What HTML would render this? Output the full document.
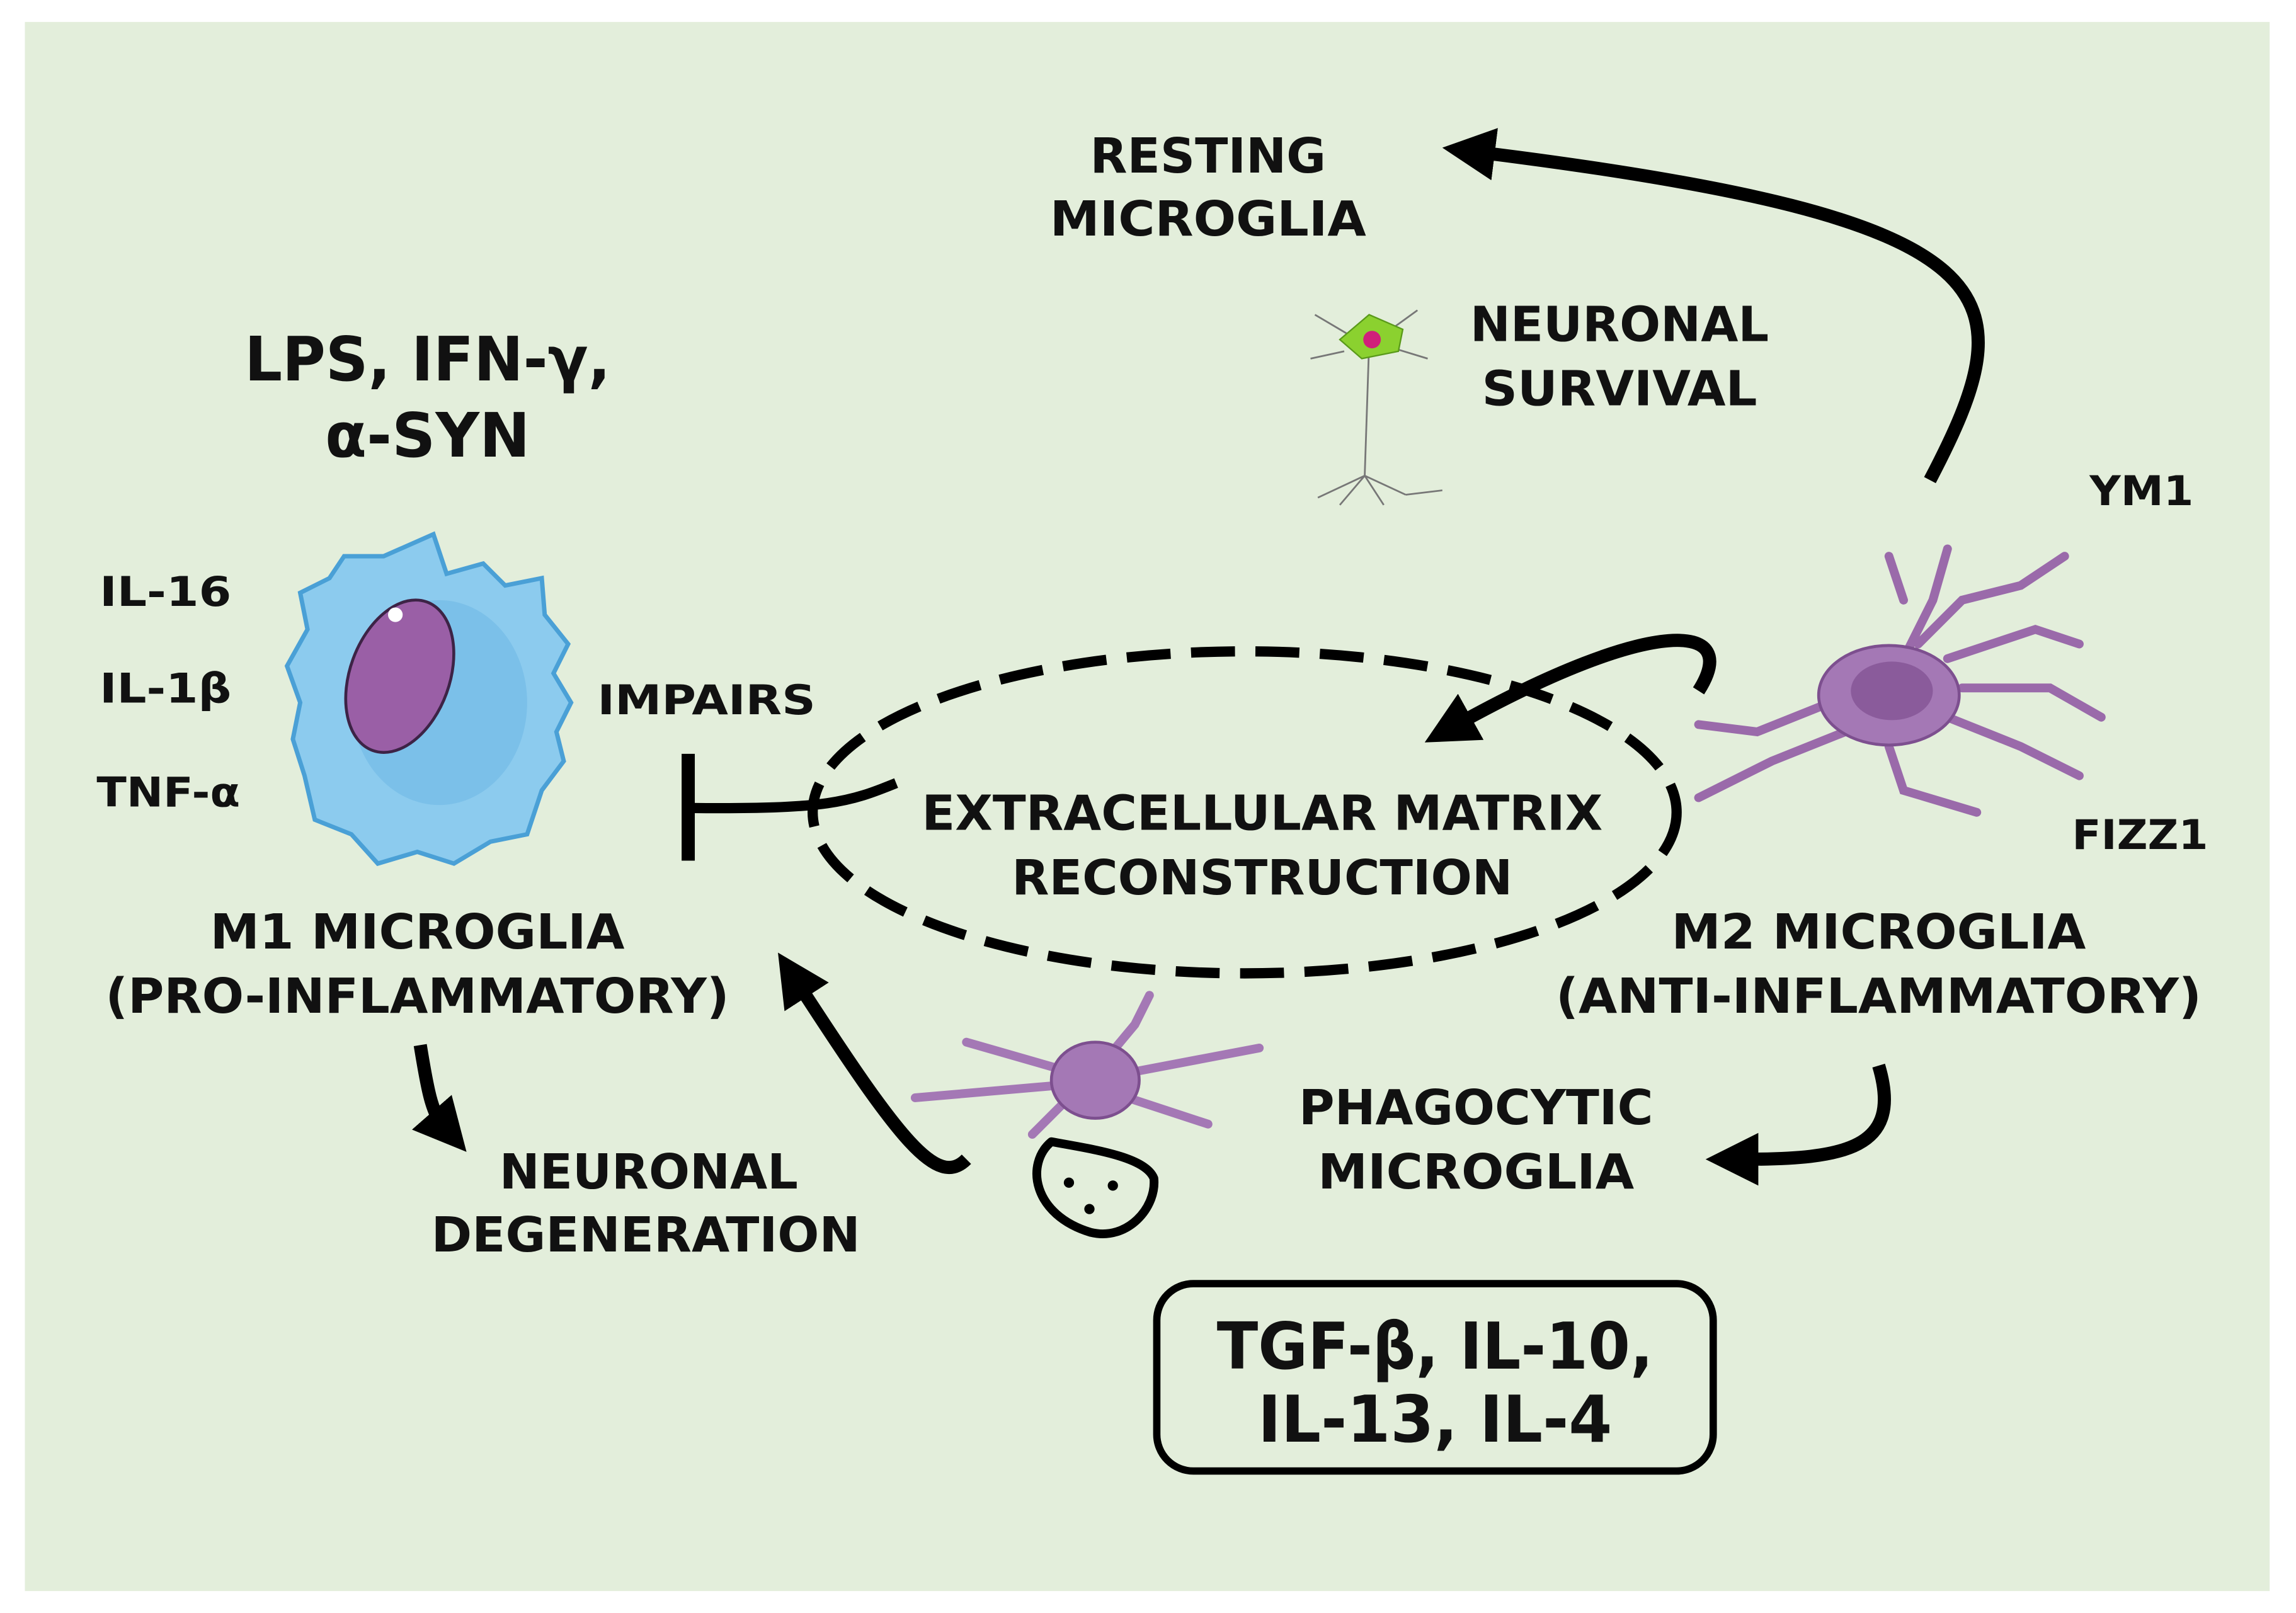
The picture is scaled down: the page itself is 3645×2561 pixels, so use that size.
<!DOCTYPE html>
<html><head><meta charset="utf-8">
<style>
html,body{margin:0;padding:0;background:#fff;}
svg{display:block;}
text{font-family:"DejaVu Sans","Liberation Sans",sans-serif;font-weight:bold;fill:#111;}
</style></head>
<body>
<svg width="3645" height="2561" viewBox="0 0 1568 1102" preserveAspectRatio="none" xmlns="http://www.w3.org/2000/svg">
<defs>
<marker id="ah" markerWidth="4" markerHeight="4" refX="1.2" refY="2" orient="auto" markerUnits="strokeWidth">
<path d="M0,0 L4,2 L0,4 Z" fill="#000"/>
</marker>
</defs>
<rect x="0" y="0" width="1568" height="1102" fill="#fff"/>
<rect x="17" y="15" width="1533" height="1072" fill="#e3eedb"/>

<ellipse cx="850" cy="555" rx="295" ry="110" fill="none" stroke="#000" stroke-width="7" stroke-dasharray="30 14"/>

<path d="M1318,328 C1385,200 1380,150 1010,104" fill="none" stroke="#000" stroke-width="9" marker-end="url(#ah)"/>
<path d="M1160,472 C1190,425 1130,420 995,495" fill="none" stroke="#000" stroke-width="9" marker-end="url(#ah)"/>
<path d="M612,535 C580,548 565,553 472,552" fill="none" stroke="#000" stroke-width="7"/>
<line x1="470" y1="515" x2="470" y2="588" stroke="#000" stroke-width="9"/>
<path d="M660,792 C640,812 615,780 545,672" fill="none" stroke="#000" stroke-width="9" marker-end="url(#ah)"/>
<path d="M1283,728 C1300,785 1260,792 1190,792" fill="none" stroke="#000" stroke-width="9" marker-end="url(#ah)"/>
<path d="M287,714 C292,745 295,760 302,768" fill="none" stroke="#000" stroke-width="9" marker-end="url(#ah)"/>

<path d="M296,365 L305,392 L330,385 L345,400 L370,395 L372,420 L388,440 L378,460 L390,480 L380,500 L385,520 L370,540 L360,570 L335,575 L310,590 L285,582 L258,590 L240,570 L215,560 L208,530 L200,505 L205,480 L196,455 L210,430 L205,405 L225,395 L235,380 L262,380 Z" fill="#8ccbee" stroke="#4aa0d6" stroke-width="3"/>
<ellipse cx="300" cy="480" rx="60" ry="70" fill="#6fb9e6" opacity="0.6"/>
<ellipse cx="273" cy="462" rx="34" ry="54" transform="rotate(20 273 462)" fill="#9a5fa6" stroke="#3d2346" stroke-width="2"/>
<circle cx="270" cy="420" r="5" fill="#fff"/>

<g stroke="#9a6aaa" stroke-width="6" stroke-linecap="round" fill="none">
<path d="M1290,470 L1320,410 L1330,375"/>
<path d="M1310,440 L1340,410 L1380,400 L1410,380"/>
<path d="M1330,450 L1390,430 L1420,440"/>
<path d="M1340,470 L1400,470 L1435,490"/>
<path d="M1330,490 L1380,510 L1420,530"/>
<path d="M1250,480 L1200,500 L1160,495"/>
<path d="M1260,500 L1210,520 L1160,545"/>
<path d="M1290,510 L1300,540 L1350,555"/>
<path d="M1300,410 L1290,380"/>
</g>
<ellipse cx="1290" cy="475" rx="48" ry="34" fill="#a478b5" stroke="#7d4f8f" stroke-width="2"/>
<ellipse cx="1292" cy="472" rx="28" ry="20" fill="#8a5b9b"/>

<g stroke="#a478b5" stroke-width="6" stroke-linecap="round" fill="none">
<path d="M740,735 L660,712"/><path d="M740,740 L625,750"/>
<path d="M750,730 L775,700 L785,680"/><path d="M760,735 L860,716"/>
<path d="M755,745 L825,768"/><path d="M735,745 L705,775"/>
</g>
<ellipse cx="748" cy="738" rx="30" ry="26" fill="#a478b5" stroke="#7d4f8f" stroke-width="2"/>
<path d="M718,780 C700,795 705,830 745,842 C770,848 790,825 788,805 C782,790 745,785 718,780 Z" fill="none" stroke="#000" stroke-width="6" stroke-linejoin="round"/>
<circle cx="730" cy="808" r="3.5"/><circle cx="744" cy="826" r="3.5"/><circle cx="760" cy="810" r="3.5"/>

<g stroke="#777" stroke-width="1.2" fill="none">
<path d="M935,235 L932,325"/><path d="M932,325 L900,340 M932,325 L960,338 M932,325 L915,345 M932,325 L945,345 M960,338 L985,335"/>
<path d="M920,228 L898,215 M950,225 L968,212 M952,238 L975,245 M918,240 L895,245"/>
</g>
<path d="M915,232 L935,215 L958,225 L955,240 L930,245 Z" fill="#8bd12f" stroke="#5a9a1a"/>
<circle cx="937" cy="232" r="6" fill="#d0207a"/>

<rect x="790" y="877" width="380" height="128" rx="25" fill="none" stroke="#000" stroke-width="5"/>

<g text-anchor="middle">
<text x="825" y="118" font-size="33">RESTING</text>
<text x="825" y="161" font-size="33" textLength="216" lengthAdjust="spacingAndGlyphs">MICROGLIA</text>
<text x="1106" y="233" font-size="33" textLength="204" lengthAdjust="spacingAndGlyphs">NEURONAL</text>
<text x="1106" y="277" font-size="33" textLength="188" lengthAdjust="spacingAndGlyphs">SURVIVAL</text>
<text x="292" y="260" font-size="42" textLength="250" lengthAdjust="spacingAndGlyphs">LPS, IFN-γ,</text>
<text x="292" y="312" font-size="42" textLength="140" lengthAdjust="spacingAndGlyphs">α-SYN</text>
<text x="862" y="567" font-size="33" textLength="465" lengthAdjust="spacingAndGlyphs">EXTRACELLULAR MATRIX</text>
<text x="862" y="611" font-size="33" textLength="342" lengthAdjust="spacingAndGlyphs">RECONSTRUCTION</text>
<text x="285" y="648" font-size="33" textLength="283" lengthAdjust="spacingAndGlyphs">M1 MICROGLIA</text>
<text x="285" y="692" font-size="33" textLength="426" lengthAdjust="spacingAndGlyphs">(PRO-INFLAMMATORY)</text>
<text x="1283" y="648" font-size="33" textLength="283" lengthAdjust="spacingAndGlyphs">M2 MICROGLIA</text>
<text x="1283" y="692" font-size="33" textLength="441" lengthAdjust="spacingAndGlyphs">(ANTI-INFLAMMATORY)</text>
<text x="1008" y="768" font-size="33" textLength="242" lengthAdjust="spacingAndGlyphs">PHAGOCYTIC</text>
<text x="1008" y="812" font-size="33" textLength="216" lengthAdjust="spacingAndGlyphs">MICROGLIA</text>
<text x="443" y="812" font-size="33" textLength="204" lengthAdjust="spacingAndGlyphs">NEURONAL</text>
<text x="441" y="855" font-size="33" textLength="293" lengthAdjust="spacingAndGlyphs">DEGENERATION</text>
<text x="980" y="935" font-size="44" textLength="298" lengthAdjust="spacingAndGlyphs">TGF-β, IL-10,</text>
<text x="980" y="985" font-size="44" textLength="242" lengthAdjust="spacingAndGlyphs">IL-13, IL-4</text>
</g>
<text x="68" y="414" font-size="28" textLength="90" lengthAdjust="spacingAndGlyphs">IL-16</text>
<text x="68" y="480" font-size="28" textLength="90" lengthAdjust="spacingAndGlyphs">IL-1β</text>
<text x="66" y="551" font-size="28" textLength="98" lengthAdjust="spacingAndGlyphs">TNF-α</text>
<text x="408" y="488" font-size="28" textLength="149" lengthAdjust="spacingAndGlyphs">IMPAIRS</text>
<text x="1427" y="345" font-size="28" textLength="71" lengthAdjust="spacingAndGlyphs">YM1</text>
<text x="1415" y="580" font-size="28" textLength="93" lengthAdjust="spacingAndGlyphs">FIZZ1</text>
</svg>
</body></html>
